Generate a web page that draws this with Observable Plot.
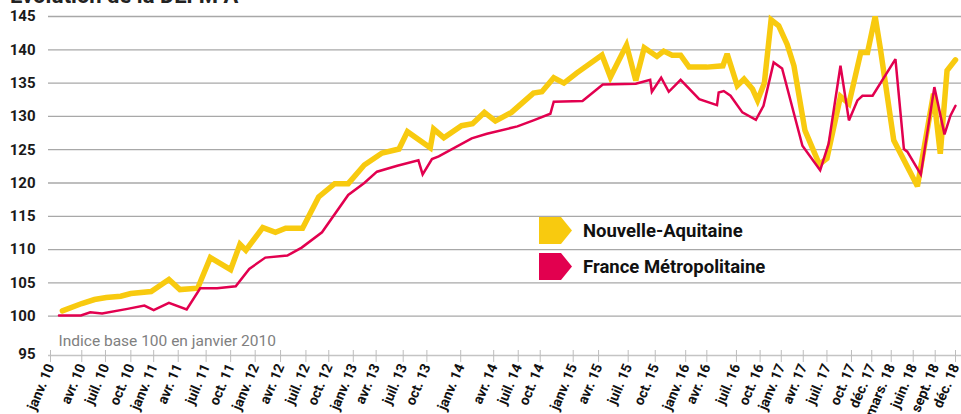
<!DOCTYPE html>
<html><head><meta charset="utf-8">
<script src="https://cdn.jsdelivr.net/npm/d3@7"></script>
<script src="https://cdn.jsdelivr.net/npm/@observablehq/plot@0.6"></script>
<style>
body{margin:0;background:#fff;font-family:Roboto,"DejaVu Sans",sans-serif;}
#wrap{position:relative;width:961px;height:414px;overflow:hidden;background:#fff;}
#title{position:absolute;left:10px;top:-17px;font:bold 22px/26px Roboto,sans-serif;color:#222;white-space:nowrap;}
.leg{position:absolute;left:539px;height:27px;display:flex;align-items:center;font:bold 18.5px Roboto,sans-serif;color:#111;white-space:nowrap;}
.leg svg{margin-right:11px;display:block}
</style></head><body>
<div id="wrap"><div id="chart"></div><div id="title">Évolution de la DEFM A</div><div id="legend"></div></div>
<script>
// Series
const seriesNames = ["Nouvelle-Aquitaine", "France Métropolitaine"];
const seriesColors = ["#F8CA0F", "#E2004F"];
const note = "Indice base 100 en janvier 2010";

// x-axis category labels and their position on the time index (0 = janv. 10, 107 = déc. 18)
const tickLabels = ["janv. 10","avr. 10","juil. 10","oct. 10","janv. 11","avr. 11","juil. 11","oct. 11",
  "janv. 12","avr. 12","juil. 12","oct. 12","janv. 13","avr. 13","juil. 13","oct. 13",
  "janv. 14","avr. 14","juil. 14","oct. 14","janv. 15","avr. 15","juil. 15","oct. 15",
  "janv. 16","avr. 16","juil. 16","oct. 16","janv. 17","avr. 17","juil. 17","oct. 17",
  "déc. 17","mars. 18","juin. 18","sept. 18","déc. 18"];
const tickPos = [0,3.7,6.5,9.5,12.2,15.1,18.4,21.3,24.2,27.2,30.2,32.9,35.8,38.5,41.7,44.5,
  48.5,52.4,55.3,57.9,61.8,64.8,68.3,71.5,75.1,77.6,81.1,83.9,86.4,89.0,91.8,94.7,
  97.1,99.4,102.0,104.6,107];
const yTicks = [100,105,110,115,120,125,130,135,140,145];

// Nouvelle-Aquitaine (time index, value)
const naPos = [1.4,3.7,5.2,6.6,8.3,9.5,11.9,14.0,15.3,17.4,18.9,21.3,22.4,23.1,25.1,26.6,27.8,29.8,
  31.7,33.6,35.2,37.1,39.2,41.2,42.2,44.9,45.3,46.5,48.6,49.9,51.3,52.6,54.5,57.1,58.1,59.5,
  60.7,62.2,65.2,66.2,68.1,69.2,70.2,71.7,72.5,73.5,74.5,75.5,77.6,79.5,80.0,81.2,82.0,83.0,
  83.6,84.4,85.2,86.1,87.1,87.9,89.2,90.9,91.8,93.4,94.4,95.8,96.6,97.5,98.1,99.7,102.5,
  104.4,105.2,106.0,107.0];
const naVal = [100.8,101.9,102.5,102.8,103.0,103.4,103.7,105.5,104.0,104.2,108.8,107.0,110.8,109.9,
  113.3,112.6,113.2,113.2,117.9,119.9,119.9,122.7,124.5,125.1,127.7,125.3,128.1,126.8,128.6,
  128.9,130.6,129.3,130.6,133.5,133.7,135.8,135.0,136.5,139.2,135.9,140.7,135.4,140.3,139.0,
  139.8,139.2,139.2,137.4,137.4,137.6,139.4,134.6,135.6,134.1,132.4,135.0,144.5,143.6,140.8,
  137.6,127.9,122.8,123.7,133.0,131.9,139.6,139.6,145.0,140.3,126.4,119.5,133.4,124.4,136.9,138.5];

// France Métropolitaine (time index, value)
const frPos = [1.0,3.6,4.7,6.1,9.1,11.1,12.2,14.0,16.1,17.7,19.7,21.9,23.5,25.4,28.0,29.7,32.1,
  35.2,37.1,38.6,41.0,43.5,44.0,45.1,45.9,49.8,51.6,55.2,57.1,59.1,59.5,62.9,65.3,69.2,70.9,
  71.1,72.2,73.1,74.5,76.7,78.8,79.0,79.6,80.4,81.8,83.4,84.3,85.5,86.5,88.9,91.0,92.0,93.4,
  94.4,95.4,96.0,97.2,99.9,100.9,101.3,102.9,104.5,105.7,106.4,107.0];
const frVal = [100.1,100.1,100.6,100.4,101.1,101.6,100.9,102.0,101.0,104.2,104.2,104.5,107.1,108.8,
  109.1,110.3,112.6,118.2,120.0,121.7,122.6,123.4,121.3,123.6,124.0,126.7,127.4,128.5,129.4,
  130.4,132.2,132.3,134.8,134.9,135.5,133.7,135.8,133.7,135.5,132.6,131.7,133.6,133.8,133.1,
  130.6,129.5,131.6,138.1,137.2,125.6,121.9,125.9,137.6,129.4,132.4,133.1,133.1,138.6,125.1,
  124.7,121.3,134.4,127.3,130.1,131.6];

const na = naPos.map((x, i) => ({x, y: naVal[i]}));
const fr = frPos.map((x, i) => ({x, y: frVal[i]}));
const labelOf = new Map(tickPos.map((p, i) => [p, tickLabels[i]]));

const chart = Plot.plot({
  width: 961, height: 414,
  marginLeft: 50, marginRight: 6, marginTop: 16, marginBottom: 65,
  x: {domain: [0, 107]},
  y: {domain: [95, 145]},
  style: {fontFamily: "Roboto, sans-serif", background: "#fff", overflow: "visible"},
  marks: [
    Plot.ruleY(yTicks, {stroke: "#a8a8a8", strokeWidth: 1.3, insetLeft: -2, insetRight: -6}),
    Plot.ruleY([95], {stroke: "#c4c4c4", strokeWidth: 1.5, dy: 6, insetLeft: -2, insetRight: -6}),
    Plot.axisY({ticks: yTicks, tickSize: 0, tickPadding: 15, fontSize: 15, fontWeight: "bold", fill: "#1a1a1a", label: null}),
    Plot.axisY({ticks: [95], tickSize: 0, tickPadding: 15, fontSize: 15, fontWeight: "bold", fill: "#1a1a1a", dy: 5, label: null}),
    Plot.axisX({ticks: tickPos, tickFormat: d => labelOf.get(d), tickSize: 12, tickPadding: 2, dy: 1,
      tickRotate: -67, fontSize: 14, fontWeight: "bold", fill: "#111", stroke: "#bdbdbd", label: null}),
    Plot.text([note], {frameAnchor: "bottom-left", dx: 8, dy: -4, lineAnchor: "bottom", fontSize: 15.5, fill: "#808080"}),
    Plot.line(na, {x: "x", y: "y", stroke: seriesColors[0], strokeWidth: 5.5, strokeLinejoin: "miter", strokeMiterlimit: 3}),
    Plot.line(fr, {x: "x", y: "y", stroke: seriesColors[1], strokeWidth: 2.5, strokeLinejoin: "miter", strokeMiterlimit: 3})
  ]
});
document.getElementById("chart").appendChild(chart);

// Legend
const legend = document.getElementById("legend");
const legendTops = [217, 253];
seriesNames.forEach((name, i) => {
  const row = document.createElement("div");
  row.className = "leg";
  row.style.top = legendTops[i] + "px";
  row.innerHTML = `<svg width="33" height="27"><polygon points="0,0 22,0 33,13.5 22,27 0,27" fill="${seriesColors[i]}"/></svg><span>${name}</span>`;
  legend.appendChild(row);
});
</script>
</body></html>
